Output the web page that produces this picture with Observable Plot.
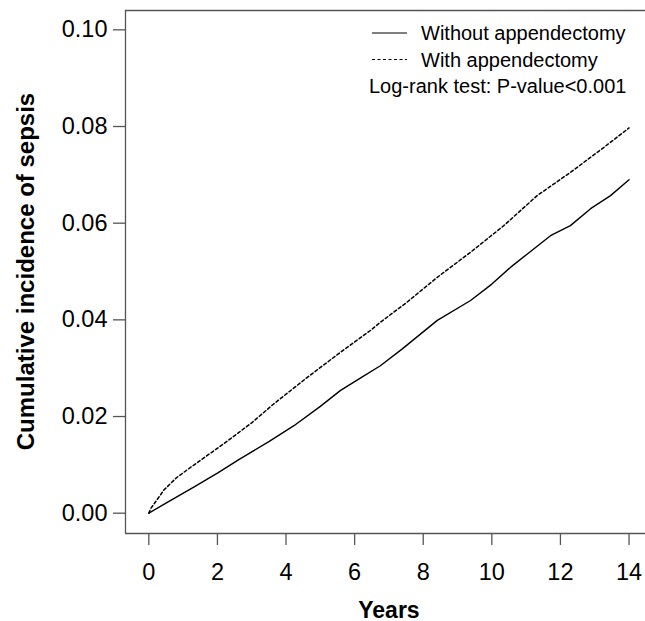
<!DOCTYPE html>
<html>
<head>
<meta charset="utf-8">
<script src="https://cdn.jsdelivr.net/npm/d3@7"></script>
<script src="https://cdn.jsdelivr.net/npm/@observablehq/plot@0.6"></script>
<style>
html, body { margin: 0; padding: 0; background: #fff; }
</style>
</head>
<body>
<div id="chart"></div>
<script>
// ---- data ----
const yearsWithout = [0, 0.5, 1.31, 2, 2.67, 3.5, 4.23, 5, 5.59, 6.2, 6.75, 7.39, 8.41, 9.38, 10, 10.55, 11.1, 11.71, 12.29, 12.88, 13.46, 14.0];
const incidenceWithout = [0, 0.0021, 0.0054, 0.0083, 0.0113, 0.0148, 0.0181, 0.0221, 0.0254, 0.0281, 0.0305, 0.0340, 0.0399, 0.0440, 0.0474, 0.0509, 0.0540, 0.0574, 0.0595, 0.0630, 0.0657, 0.0690];
const yearsWith = [0, 0.05, 0.15, 0.44, 0.8, 1.22, 2.19, 3.0, 3.64, 4.62, 5.59, 6.46, 6.75, 7.5, 8.41, 9.4, 10.35, 11.32, 12.29, 13.27, 14.0];
const incidenceWith = [0, 0.0009, 0.0019, 0.0048, 0.0073, 0.0095, 0.0144, 0.0187, 0.0226, 0.0281, 0.0333, 0.0378, 0.0395, 0.0435, 0.0488, 0.0541, 0.0595, 0.0657, 0.0705, 0.0757, 0.0797];

const seriesLabels = ["Without appendectomy", "With appendectomy"];
const testLabel = "Log-rank test: P-value<0.001";
const xTitle = "Years";
const yTitle = "Cumulative incidence of sepsis";
const xTicks = [0, 2, 4, 6, 8, 10, 12, 14];
const yTicks = [0, 0.02, 0.04, 0.06, 0.08, 0.10];
const xDomain = [-0.68, 14.48];
const yDomain = [-0.0042, 0.104];

// ---- build tables for Plot ----
const withoutData = yearsWithout.map((t, i) => ({t, v: incidenceWithout[i]}));
const withData = yearsWith.map((t, i) => ({t, v: incidenceWith[i]}));

const FONT = "'Liberation Sans', Arial, Helvetica, sans-serif";
const AXIS_GRAY = "#555";

const svg = Plot.plot({
  width: 645,
  height: 621,
  marginLeft: 125,
  marginRight: 0,
  marginTop: 10,
  marginBottom: 88,
  style: {fontFamily: FONT, fontSize: "20px", background: "white", overflow: "visible", color: "black"},
  x: {domain: xDomain},
  y: {domain: yDomain},
  marks: [
    // frame (left, top, bottom)
    Plot.ruleY(yDomain, {stroke: AXIS_GRAY, strokeWidth: 1.3}),
    Plot.ruleX([xDomain[0]], {stroke: AXIS_GRAY, strokeWidth: 1.3}),
    Plot.axisX({ticks: xTicks, tickFormat: d => String(d), tickSize: 12, tickPadding: 18,
      fontSize: 23.5, stroke: AXIS_GRAY, strokeWidth: 1.3, fill: "black", label: null}),
    Plot.axisY({ticks: yTicks, tickFormat: d3.format(".2f"), tickSize: 12, tickPadding: 6,
      fontSize: 23.5, stroke: AXIS_GRAY, strokeWidth: 1.3, fill: "black", label: null}),
    Plot.text([7], {x: d => d, text: () => xTitle, frameAnchor: "bottom", lineAnchor: "bottom",
      dy: 84, fontSize: 23, fontWeight: "bold", fill: "black"}),
    Plot.text([0.05], {y: d => d, text: () => yTitle, frameAnchor: "left", lineAnchor: "bottom",
      textAnchor: "middle", rotate: -90, dx: -92, fontSize: 24, fontWeight: "bold", fill: "black"}),
    Plot.line(withoutData, {x: "t", y: "v", stroke: "black", strokeWidth: 1.4}),
    Plot.line(withData, {x: "t", y: "v", stroke: "black", strokeWidth: 1.5, strokeDasharray: "3,2.5"})
  ]
});

// ---- legend (inside the plot, top right) ----
const lg = d3.select(svg).append("g")
  .attr("font-family", FONT)
  .attr("font-size", 20)
  .attr("text-anchor", "start")
  .attr("fill", "black");
const rowStep = 26.5;
seriesLabels.forEach((label, i) => {
  const cy = 33 + i * rowStep;
  lg.append("line")
    .attr("x1", 372).attr("x2", 407).attr("y1", cy).attr("y2", cy)
    .attr("stroke", "black").attr("stroke-width", 1.2)
    .attr("stroke-dasharray", i === 1 ? "3,2.5" : null);
  lg.append("text").attr("x", 421).attr("y", cy + 7).text(label);
});
lg.append("text").attr("x", 369).attr("y", 33 + 2 * rowStep + 7).text(testLabel);

document.getElementById("chart").appendChild(svg);
</script>
</body>
</html>
